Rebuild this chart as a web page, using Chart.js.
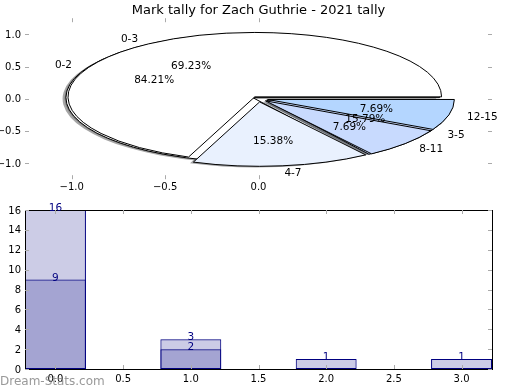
<!DOCTYPE html>
<html><head><meta charset="utf-8">
<script src="https://cdn.jsdelivr.net/npm/chart.js@4.4.1/dist/chart.umd.min.js"></script>
<style>
html,body{margin:0;padding:0;background:#fff;}
#wrap{position:relative;width:520px;height:390px;overflow:hidden;background:#fff;}
canvas{position:absolute;left:0;}
#axTop{top:0;} #pie{top:0;} #bar{top:195px;}
</style></head><body>
<div id="wrap">
<canvas id="axTop" width="520" height="195"></canvas>
<canvas id="pie" width="520" height="195"></canvas>
<canvas id="bar" width="520" height="195"></canvas>
</div>
<script>
// ---------- data ----------
const titleText = 'Mark tally for Zach Guthrie - 2021 tally';
const pieALabels = ['0-2', '3-5'];
const pieACounts = [16, 3];
const pieBLabels = ['0-3', '4-7', '8-11', '12-15'];
const pieBCounts = [9, 2, 1, 1];
const barPositions = [0, 1, 2, 3];
const barSeriesA = [16, 3];
const barSeriesB = [9, 2, 1, 1];
const pieXTicks = [-1.0, -0.5, 0.0];
const pieYTicks = [-1.0, -0.5, 0.0, 0.5, 1.0];
const barXTicks = [0, 0.5, 1, 1.5, 2, 2.5, 3];
const barYTicks = [0, 2, 4, 6, 8, 10, 12, 14, 16];
const watermarkText = 'Dream-Stats.com';

// ---------- styles ----------
const pieAColors = ['#ffffff', '#c8dafe'];
const pieBColors = ['#ffffff', '#e9f1fe', '#c8dafe', '#b4d6ff'];
const pieAExplode = [0.035, 0.05];
const pieBExplode = [0.035, 0.05, 0.05, 0.05];
const PIE_LIM = 1.25, LABEL_DIST = 1.1, PCT_DIST = 0.6, SHADOW_OFF = -0.018;
const FONT = '"DejaVu Sans"';
const TICK_COLOR = '#aaaaaa';
const BAR_FILL = 'rgba(0,0,128,0.2)', BAR_EDGE = '#000080';
const TEXT_DY = 1;

Chart.defaults.font.family = FONT;
Chart.defaults.color = '#000';

const fmt1 = v => (v < 0 ? '\u2212' : '') + Math.abs(v).toFixed(1);
const setTicks = arr => s => { s.ticks = arr.map(v => ({ value: v })); };

function drawInnerTicks(chart) {
  const ctx = chart.ctx, ca = chart.chartArea;
  const xs = chart.scales.x, ys = chart.scales.y;
  ctx.save();
  ctx.strokeStyle = TICK_COLOR; ctx.lineWidth = 1;
  ctx.beginPath();
  xs.ticks.forEach(t => {
    const p = Math.round(xs.getPixelForValue(t.value)) + 0.5;
    ctx.moveTo(p, ca.bottom); ctx.lineTo(p, ca.bottom - 4);
    ctx.moveTo(p, ca.top); ctx.lineTo(p, ca.top + 4);
  });
  ys.ticks.forEach(t => {
    const p = Math.round(ys.getPixelForValue(t.value)) + 0.5;
    ctx.moveTo(ca.left, p); ctx.lineTo(ca.left + 4, p);
    ctx.moveTo(ca.right, p); ctx.lineTo(ca.right - 4, p);
  });
  ctx.stroke();
  ctx.restore();
}

// ---------- top axes ----------
new Chart(document.getElementById('axTop'), {
  type: 'scatter',
  data: { datasets: [] },
  options: {
    responsive: false, animation: false, devicePixelRatio: 1, events: [],
    layout: { padding: { left: 0, right: 28, top: 0, bottom: 0 } },
    plugins: {
      legend: { display: false }, tooltip: { enabled: false },
      title: { display: true, text: titleText, fullSize: false, color: '#000',
               font: { size: 13, weight: 'normal', lineHeight: 1.17 }, padding: { top: 3, bottom: 0 } }
    },
    scales: {
      x: { type: 'linear', min: -PIE_LIM, max: PIE_LIM, afterBuildTicks: setTicks(pieXTicks),
           afterFit: s => { s.height = 15.8; },
           grid: { display: false, drawTicks: false }, border: { display: false },
           ticks: { callback: v => fmt1(v), font: { size: 10 }, color: '#000', padding: 2, maxRotation: 0, autoSkip: false } },
      y: { type: 'linear', min: -PIE_LIM, max: PIE_LIM, afterBuildTicks: setTicks(pieYTicks),
           afterFit: s => { s.width = 25; },
           grid: { display: false, drawTicks: false }, border: { display: false },
           ticks: { callback: v => fmt1(v), font: { size: 10 }, color: '#000', padding: 4, labelOffset: TEXT_DY, autoSkip: false } }
    }
  },
  plugins: [{ id: 'innerTicksTop', afterDraw: drawInnerTicks }]
});

// ---------- pies ----------
function shadowColor(hex) {
  const n = parseInt(hex.slice(1), 16);
  const r = (n >> 16) & 255, g = (n >> 8) & 255, b = n & 255;
  return `rgba(${Math.round(r * 0.3)},${Math.round(g * 0.3)},${Math.round(b * 0.3)},0.5)`;
}
const pieSets = [
  { labels: pieALabels, counts: pieACounts, colors: pieAColors, explode: pieAExplode },
  { labels: pieBLabels, counts: pieBCounts, colors: pieBColors, explode: pieBExplode }
];
function pieGeom(chart) {
  const ca = chart.chartArea;
  const a0 = chart.getDatasetMeta(0).data[0];
  return { ux: (ca.right - ca.left) / (2 * PIE_LIM), uy: (ca.bottom - ca.top) / (2 * PIE_LIM),
           cx: a0.x, cy: a0.y, R: a0.outerRadius };
}
const ellipsePie = {
  id: 'ellipsePie',
  beforeDatasetsDraw(chart) {
    const ctx = chart.ctx;
    const { ux, uy, cx, cy, R } = pieGeom(chart);
    const base = ctx.getTransform();
    const proto = CanvasRenderingContext2D.prototype;
    const drawOne = (arc, di, i, shadow) => {
      const mid = (arc.startAngle + arc.endAngle) / 2;
      const e = pieSets[di].explode[i] * R;
      let dx = e * Math.cos(mid), dy = e * Math.sin(mid);
      if (shadow) { dx += SHADOW_OFF * R; dy += SHADOW_OFF * R; }
      const ir = arc.innerRadius, orr = arc.outerRadius;
      arc.innerRadius = 0; arc.outerRadius = R;
      ctx.save();
      ctx.translate(cx, cy); ctx.scale(ux / R, -uy / R); ctx.translate(-cx, -cy);
      ctx.translate(dx, dy);
      if (shadow) {
        const col = shadowColor(pieSets[di].colors[i]);
        ctx.fill = function () { this.fillStyle = col; return proto.fill.apply(this, arguments); };
        ctx.stroke = function () {};
      } else {
        ctx.stroke = function () { this.save(); this.setTransform(base); proto.stroke.apply(this, arguments); this.restore(); };
      }
      arc.draw(ctx);
      delete ctx.fill; delete ctx.stroke;
      ctx.restore();
      arc.innerRadius = ir; arc.outerRadius = orr;
    };
    [true, false].forEach(sh => {
      [0, 1].forEach(di => chart.getDatasetMeta(di).data.forEach((arc, i) => drawOne(arc, di, i, sh)));
    });
    return false;
  },
  afterDraw(chart) {
    const ctx = chart.ctx;
    const { ux, uy, cx, cy } = pieGeom(chart);
    ctx.save();
    ctx.font = '10.5px ' + FONT; ctx.fillStyle = '#000'; ctx.textBaseline = 'middle';
    pieSets.forEach((s, di) => {
      const total = s.counts.reduce((a, b) => a + b, 0);
      chart.getDatasetMeta(di).data.forEach((arc, i) => {
        const mid = (arc.startAngle + arc.endAngle) / 2, c = Math.cos(mid), sn = Math.sin(mid);
        const e = s.explode[i];
        const lx = (e + LABEL_DIST) * c, ly = (e + LABEL_DIST) * sn;
        ctx.textAlign = lx > 0 ? 'left' : 'right';
        ctx.fillText(s.labels[i], cx + lx * ux, cy - ly * uy + TEXT_DY);
        const px = (e + PCT_DIST) * c, py = (e + PCT_DIST) * sn;
        ctx.textAlign = 'center';
        ctx.fillText((s.counts[i] / total * 100).toFixed(2) + '%', cx + px * ux, cy - py * uy + TEXT_DY);
      });
    });
    ctx.restore();
  }
};
new Chart(document.getElementById('pie'), {
  type: 'pie',
  data: {
    labels: pieBLabels,
    datasets: pieSets.map(s => ({ data: s.counts, backgroundColor: s.colors, borderColor: '#000', borderWidth: 1 }))
  },
  options: {
    responsive: false, animation: false, devicePixelRatio: 1, events: [],
    rotation: 90,
    layout: { padding: { left: 25, right: 28, top: 18.2, bottom: 15.8 } },
    plugins: { legend: { display: false }, tooltip: { enabled: false } }
  },
  plugins: [ellipsePie]
});

// ---------- bars ----------
const barDecor = {
  id: 'barDecor',
  afterDraw(chart) {
    const ctx = chart.ctx, ca = chart.chartArea;
    ctx.save();
    ctx.strokeStyle = '#000'; ctx.lineWidth = 1;
    const l = Math.floor(ca.left) + 0.5, r = Math.floor(ca.right) + 0.5, t = Math.floor(ca.top) + 0.5, b = Math.floor(ca.bottom) + 0.5;
    ctx.strokeRect(l, t, r - l, b - t);
    ctx.restore();
    drawInnerTicks(chart);
    ctx.save();
    ctx.font = '10.5px ' + FONT; ctx.fillStyle = BAR_EDGE; ctx.textAlign = 'center'; ctx.textBaseline = 'alphabetic';
    const series = [barSeriesB, barSeriesA];
    chart.data.datasets.forEach((ds, di) => {
      chart.getDatasetMeta(di).data.forEach((el, i) => {
        ctx.fillText(String(series[di][i]), el.x, el.y + 1);
      });
    });
    ctx.font = '12px ' + FONT; ctx.fillStyle = 'rgba(128,128,128,0.8)'; ctx.textAlign = 'left';
    ctx.fillText(watermarkText, 0, 190);
    ctx.restore();
  }
};
const barDs = (vals, order) => ({
  data: vals.map((y, i) => ({ x: barPositions[i], y })),
  backgroundColor: BAR_FILL, borderColor: BAR_EDGE, borderWidth: 1, borderSkipped: false,
  grouped: false, barPercentage: 0.9, categoryPercentage: 1.0, order
});
new Chart(document.getElementById('bar'), {
  type: 'bar',
  data: { datasets: [barDs(barSeriesB, 0), barDs(barSeriesA, 1)] },
  options: {
    responsive: false, animation: false, devicePixelRatio: 1, events: [],
    layout: { padding: { left: 0, right: 28, top: 15, bottom: 0 } },
    plugins: { legend: { display: false }, tooltip: { enabled: false } },
    scales: {
      x: { type: 'linear', min: -0.225, max: 3.225, offset: false, afterBuildTicks: setTicks(barXTicks),
           afterFit: s => { s.height = 21; },
           grid: { display: false, drawTicks: false, offset: false }, border: { display: false },
           ticks: { callback: v => v.toFixed(1), font: { size: 10 }, color: '#000', padding: 4, maxRotation: 0, autoSkip: false } },
      y: { type: 'linear', min: 0, max: 16, afterBuildTicks: setTicks(barYTicks),
           afterFit: s => { s.width = 25; },
           grid: { display: false, drawTicks: false }, border: { display: false },
           ticks: { callback: v => String(v), font: { size: 10 }, color: '#000', padding: 4, labelOffset: TEXT_DY, autoSkip: false } }
    }
  },
  plugins: [barDecor]
});
</script>
</body></html>
